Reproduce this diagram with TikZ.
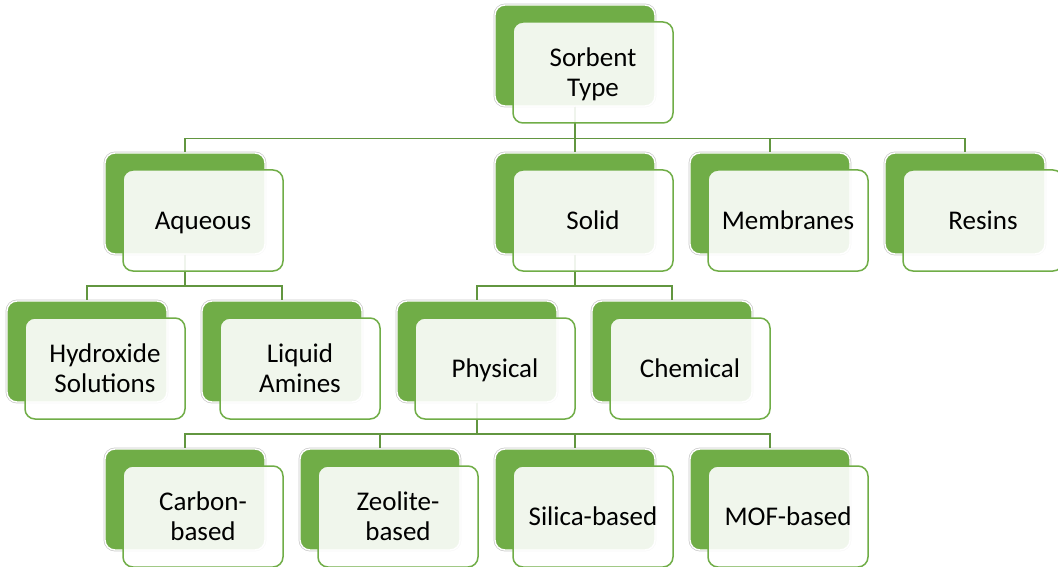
\documentclass[tikz,border=0pt]{standalone}
\usepackage{fontspec}
\setmainfont{Carlito}
\usepackage{tikz}
\usetikzlibrary{calc}
\usetikzlibrary{positioning}
\definecolor{leafgreen}{RGB}{112,173,71}
\definecolor{linkgreen}{RGB}{98,150,64}
\definecolor{rimgray}{RGB}{200,200,200}

\begin{document}
\begin{tikzpicture}[x=1pt, y=-1pt,
	backbox/.style={rectangle, rounded corners=10pt, minimum width=160pt, minimum height=101pt, inner sep=0pt, fill=leafgreen, draw=white, line width=1.4pt, preaction={draw=rimgray, line width=2.8pt}},
	frontbox/.style={rectangle, rounded corners=10pt, minimum width=160pt, minimum height=101pt, inner sep=0pt, fill=white, fill opacity=0.9, text opacity=1, draw=leafgreen, draw opacity=1, line width=1.5pt, align=center, text depth=0pt, font=\fontsize{27}{30}\selectfont},
	link/.style={draw=linkgreen, line width=1.6pt}]
				\useasboundingbox (0,0) rectangle (1058,567);
				
				\node[backbox] (sorb) at (575,55.5) {};
				\node[backbox] (aq) at (185,203.5) {};
				\node[backbox] (sol) at (575,203.5) {};
				\node[backbox] (mem) at (770,203.5) {};
				\node[backbox] (res) at (965,203.5) {};
				\node[backbox] (hyd) at (87,351.5) {};
				\node[backbox] (amine) at (282,351.5) {};
				\node[backbox] (phys) at (477,351.5) {};
				\node[backbox] (chem) at (672,351.5) {};
				\node[backbox] (carb) at (185,499.5) {};
				\node[backbox] (zeo) at (380,499.5) {};
				\node[backbox] (sil) at (575,499.5) {};
				\node[backbox] (mof) at (770,499.5) {};
				
				\draw[link] (sorb.south) -- ++(0,32) -| (aq.north);
				\draw[link] (sorb.south) -- ++(0,32) -| (sol.north);
				\draw[link] (sorb.south) -- ++(0,32) -| (mem.north);
				\draw[link] (sorb.south) -- ++(0,32) -| (res.north);
				\draw[link] (aq.south) -- ++(0,31) -| (hyd.north);
				\draw[link] (aq.south) -- ++(0,31) -| (amine.north);
				\draw[link] (sol.south) -- ++(0,31) -| (phys.north);
				\draw[link] (sol.south) -- ++(0,31) -| (chem.north);
				\draw[link] (phys.south) -- ++(0,31) -| (carb.north);
				\draw[link] (phys.south) -- ++(0,31) -| (zeo.north);
				\draw[link] (phys.south) -- ++(0,31) -| (sil.north);
				\draw[link] (phys.south) -- ++(0,31) -| (mof.north);
				
				\node[frontbox] (sorbf) at ([shift={(18,17)}]sorb.center) {Sorbent\\Type};
				\node[frontbox] (aqf) at ([shift={(18,17)}]aq.center) {Aqueous};
				\node[frontbox] (solf) at ([shift={(18,17)}]sol.center) {Solid};
				\node[frontbox] (memf) at ([shift={(18,17)}]mem.center) {Membranes};
				\node[frontbox] (resf) at ([shift={(18,17)}]res.center) {Resins};
				\node[frontbox] (hydf) at ([shift={(18,17)}]hyd.center) {Hydroxide\\Solutions};
				\node[frontbox] (aminef) at ([shift={(18,17)}]amine.center) {Liquid\\Amines};
				\node[frontbox] (physf) at ([shift={(18,17)}]phys.center) {Physical};
				\node[frontbox] (chemf) at ([shift={(18,17)}]chem.center) {Chemical};
				\node[frontbox] (carbf) at ([shift={(18,17)}]carb.center) {Carbon-\\based};
				\node[frontbox] (zeof) at ([shift={(18,17)}]zeo.center) {Zeolite-\\based};
				\node[frontbox] (silf) at ([shift={(18,17)}]sil.center) {Silica-based};
				\node[frontbox] (moff) at ([shift={(18,17)}]mof.center) {MOF-based};
\end{tikzpicture}
\end{document}
